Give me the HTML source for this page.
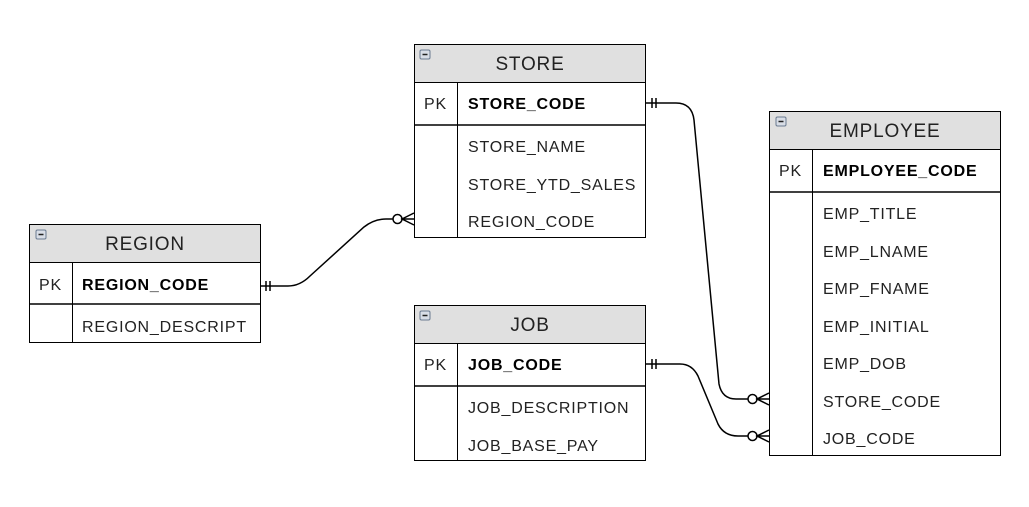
<!DOCTYPE html>
<html><head><meta charset="utf-8"><style>
html,body{margin:0;padding:0;background:#fff;}
svg{display:block;}
text{font-family:"Liberation Sans",Arial,sans-serif;fill:#222;}
.h{font-size:19px;letter-spacing:0.8px;}
.f{font-size:16px;letter-spacing:0.8px;}
.b{font-size:16px;letter-spacing:0.8px;font-weight:bold;fill:#000;}
</style></head><body>
<svg width="1029" height="507" viewBox="0 0 1029 507" xmlns="http://www.w3.org/2000/svg">
<defs>
<g id="ic"><rect x="0" y="0" width="10" height="9" rx="1.5" fill="#d8dde6" stroke="#6a7a90" stroke-width="1"/><line x1="2.5" y1="4.5" x2="7.5" y2="4.5" stroke="#222" stroke-width="1.5"/></g>
</defs>

<!-- STORE -->
<rect x="414.5" y="44.5" width="231" height="38" fill="#e0e0e0" stroke="#000"/>
<use href="#ic" x="420" y="50"/>
<text class="h" x="530" y="70" text-anchor="middle">STORE</text>
<rect x="414.5" y="82.5" width="231" height="155" fill="#fff" stroke="#000"/>
<line x1="414" y1="125" x2="646" y2="125" stroke="#000" stroke-width="1.5"/>
<line x1="457.5" y1="82" x2="457.5" y2="238" stroke="#000"/>
<text class="f" x="424" y="109">PK</text>
<text class="b" x="468" y="109">STORE_CODE</text>
<text class="f" x="468" y="152">STORE_NAME</text>
<text class="f" x="468" y="190">STORE_YTD_SALES</text>
<text class="f" x="468" y="227">REGION_CODE</text>

<!-- EMPLOYEE -->
<rect x="769.5" y="111.5" width="231" height="38" fill="#e0e0e0" stroke="#000"/>
<use href="#ic" x="776" y="117"/>
<text class="h" x="885" y="137" text-anchor="middle">EMPLOYEE</text>
<rect x="769.5" y="149.5" width="231" height="306" fill="#fff" stroke="#000"/>
<line x1="769" y1="192" x2="1001" y2="192" stroke="#000" stroke-width="1.5"/>
<line x1="812.5" y1="149" x2="812.5" y2="456" stroke="#000"/>
<text class="f" x="779" y="176">PK</text>
<text class="b" x="823" y="176">EMPLOYEE_CODE</text>
<text class="f" x="823" y="219">EMP_TITLE</text>
<text class="f" x="823" y="257">EMP_LNAME</text>
<text class="f" x="823" y="294">EMP_FNAME</text>
<text class="f" x="823" y="332">EMP_INITIAL</text>
<text class="f" x="823" y="369">EMP_DOB</text>
<text class="f" x="823" y="407">STORE_CODE</text>
<text class="f" x="823" y="444">JOB_CODE</text>

<!-- REGION -->
<rect x="29.5" y="224.5" width="231" height="38" fill="#e0e0e0" stroke="#000"/>
<use href="#ic" x="36" y="230"/>
<text class="h" x="145" y="250" text-anchor="middle">REGION</text>
<rect x="29.5" y="262.5" width="231" height="80" fill="#fff" stroke="#000"/>
<line x1="29" y1="304" x2="261" y2="304" stroke="#000" stroke-width="1.5"/>
<line x1="72.5" y1="262" x2="72.5" y2="343" stroke="#000"/>
<text class="f" x="39" y="290">PK</text>
<text class="b" x="82" y="290">REGION_CODE</text>
<text class="f" x="82" y="332">REGION_DESCRIPT</text>

<!-- JOB -->
<rect x="414.5" y="305.5" width="231" height="38" fill="#e0e0e0" stroke="#000"/>
<use href="#ic" x="420" y="311"/>
<text class="h" x="530" y="331" text-anchor="middle">JOB</text>
<rect x="414.5" y="343.5" width="231" height="117" fill="#fff" stroke="#000"/>
<line x1="414" y1="386" x2="646" y2="386" stroke="#000" stroke-width="1.5"/>
<line x1="457.5" y1="343" x2="457.5" y2="461" stroke="#000"/>
<text class="f" x="424" y="370">PK</text>
<text class="b" x="468" y="370">JOB_CODE</text>
<text class="f" x="468" y="413">JOB_DESCRIPTION</text>
<text class="f" x="468" y="451">JOB_BASE_PAY</text>

<!-- connectors -->
<g fill="none" stroke="#000" stroke-width="1.5">
<path d="M646 103 L676 103 Q692 103 694 120 L719 384 Q722 399 736 399 L748 399"/>
<line x1="652" y1="98" x2="652" y2="108"/><line x1="656" y1="98" x2="656" y2="108"/>
<circle cx="752.5" cy="399" r="4.5" fill="#fff"/>
<path d="M769 393 L757 399 L769 405 M757 399 L769 399"/>
<path d="M646 364 L680 364 Q692 364 698 376 L718 424 Q724 436 738 436 L748 436"/>
<line x1="652" y1="359" x2="652" y2="369"/><line x1="656" y1="359" x2="656" y2="369"/>
<circle cx="752.5" cy="436" r="4.5" fill="#fff"/>
<path d="M769 430 L757 436 L769 442 M757 436 L769 436"/>
<path d="M261 286 L288 286 Q300 286 310 276 L364 227 Q374 219 386 219 L393 219"/>
<line x1="266" y1="281" x2="266" y2="291"/><line x1="270" y1="281" x2="270" y2="291"/>
<circle cx="397.5" cy="219" r="4.5" fill="#fff"/>
<path d="M414 213 L402 219 L414 225 M402 219 L414 219"/>
</g>
</svg>
</body></html>
